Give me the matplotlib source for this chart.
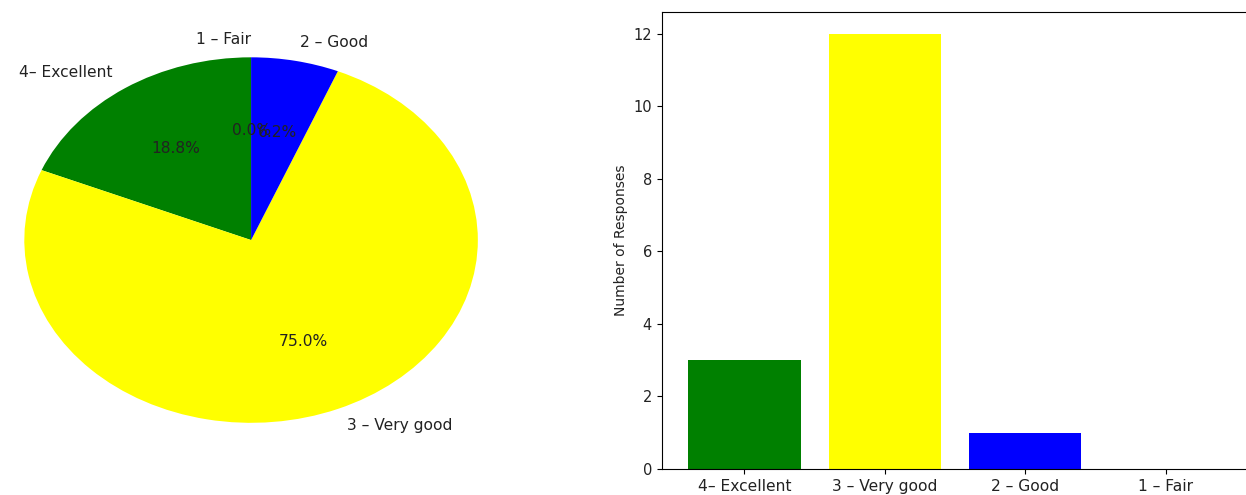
import matplotlib
matplotlib.use("Agg")
import matplotlib.pyplot as plt

categories = ["4– Excellent", "3 – Very good", "2 – Good", "1 – Fair"]
responses = [3, 12, 1, 0]
colors = ["green", "yellow", "blue", "gray"]

text_color = "#222222"
fig = plt.figure(figsize=(12.46, 4.95), dpi=100)

# Pie chart (stretched horizontally as in the reference)
ax1 = fig.add_axes([-0.026, 0.0535, 0.455, 0.923])
ax1.pie(responses, labels=categories, colors=colors, autopct="%1.1f%%",
        startangle=90, textprops={"fontsize": 11.2, "color": text_color})
ax1.set_aspect("auto")
ax1.set_xlim(-1.25, 1.25)
ax1.set_ylim(-1.25, 1.25)

# Bar chart
ax2 = fig.add_axes([0.531, 0.0525, 0.471, 0.9235])
ax2.bar(categories, responses, color=colors[:4])
ax2.set_ylabel("Number of Responses", fontsize=10, color=text_color)
ax2.tick_params(axis="x", labelsize=11.2, labelcolor=text_color)
ax2.tick_params(axis="y", labelsize=10.5, labelcolor=text_color)

fig.savefig("out.png", dpi=100)
